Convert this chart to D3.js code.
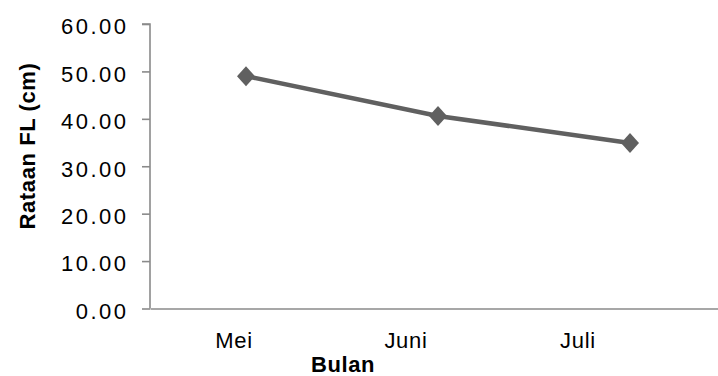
<!DOCTYPE html>
<html>
<head>
<meta charset="utf-8">
<script src="https://cdn.jsdelivr.net/npm/d3@7/dist/d3.min.js"></script>
<style>
  html, body { margin: 0; padding: 0; background: #fff; }
  svg { display: block; }
  text { font-family: "Liberation Sans", Arial, sans-serif; fill: #000; }
</style>
</head>
<body>
<svg id="chart" width="718" height="376"></svg>
<script>
// Monthly mean fork length
const months = ["Mei", "Juni", "Juli"];
const meanFL = [49.0, 40.6, 34.9];
const yTicks = [0, 10, 20, 30, 40, 50, 60];
const yTitle = "Rataan FL (cm)";
const xTitle = "Bulan";

const svg = d3.select("#chart");
const plotLeft = 150, plotRight = 726, plotTop = 24, plotBottom = 308.5;

const x = d3.scaleBand().domain(months).range([plotLeft, plotRight]);
// category labels sit on a slightly narrower band than the plotted points
const xLabel = d3.scaleBand().domain(months).range([148, 664]);
const y = d3.scaleLinear().domain([0, 60]).range([plotBottom, plotTop]);

// y axis
const yAxis = svg.append("g")
  .attr("transform", `translate(${plotLeft},0)`)
  .call(d3.axisLeft(y).tickValues(yTicks).tickSize(8).tickPadding(13.5)
    .tickFormat(d => d3.format(".2f")(d)));
yAxis.selectAll("path, line").attr("stroke", "#8a8a8a").attr("stroke-width", 1.6);
yAxis.select(".domain").attr("d", `M-8,${plotTop}H0V${plotBottom}`);
yAxis.selectAll("text")
  .style("font-family", "'Liberation Sans', Arial, sans-serif")
  .style("font-size", "22px")
  .style("letter-spacing", "2.5px")
  .attr("dy", "0.45em")
  .attr("fill", "#000");

// x axis line
const xAxis = svg.append("g")
  .attr("transform", `translate(0,${plotBottom})`)
  .call(d3.axisBottom(x).tickSize(0).tickFormat(""));
xAxis.select(".domain").attr("stroke", "#8a8a8a").attr("stroke-width", 1.6);

// category labels
svg.append("g").selectAll("text").data(months).join("text")
  .attr("x", d => xLabel(d) + xLabel.bandwidth() / 2)
  .attr("y", 348)
  .attr("text-anchor", "middle")
  .style("font-size", "22px")
  .style("letter-spacing", "0.7px")
  .text(d => d);

// series line
const pts = months.map((m, i) => [x(m) + x.bandwidth() / 2, y(meanFL[i])]);
svg.append("path")
  .attr("d", d3.line()(pts))
  .attr("fill", "none")
  .attr("stroke", "#606060")
  .attr("stroke-width", 4.5);

// diamond markers
svg.append("g").selectAll("path").data(pts).join("path")
  .attr("transform", d => `translate(${d[0]},${d[1]})`)
  .attr("d", "M0,-10L9,0L0,10L-9,0Z")
  .attr("fill", "#606060");

// axis titles
svg.append("text")
  .attr("transform", "translate(35,146) rotate(-90)")
  .attr("text-anchor", "middle")
  .style("font-size", "22px")
  .style("font-weight", "bold")
  .style("letter-spacing", "0.6px")
  .text(yTitle);

svg.append("text")
  .attr("x", 343)
  .attr("y", 371.5)
  .attr("text-anchor", "middle")
  .style("font-size", "22px")
  .style("font-weight", "bold")
  .style("letter-spacing", "0.6px")
  .text(xTitle);
</script>
</body>
</html>
